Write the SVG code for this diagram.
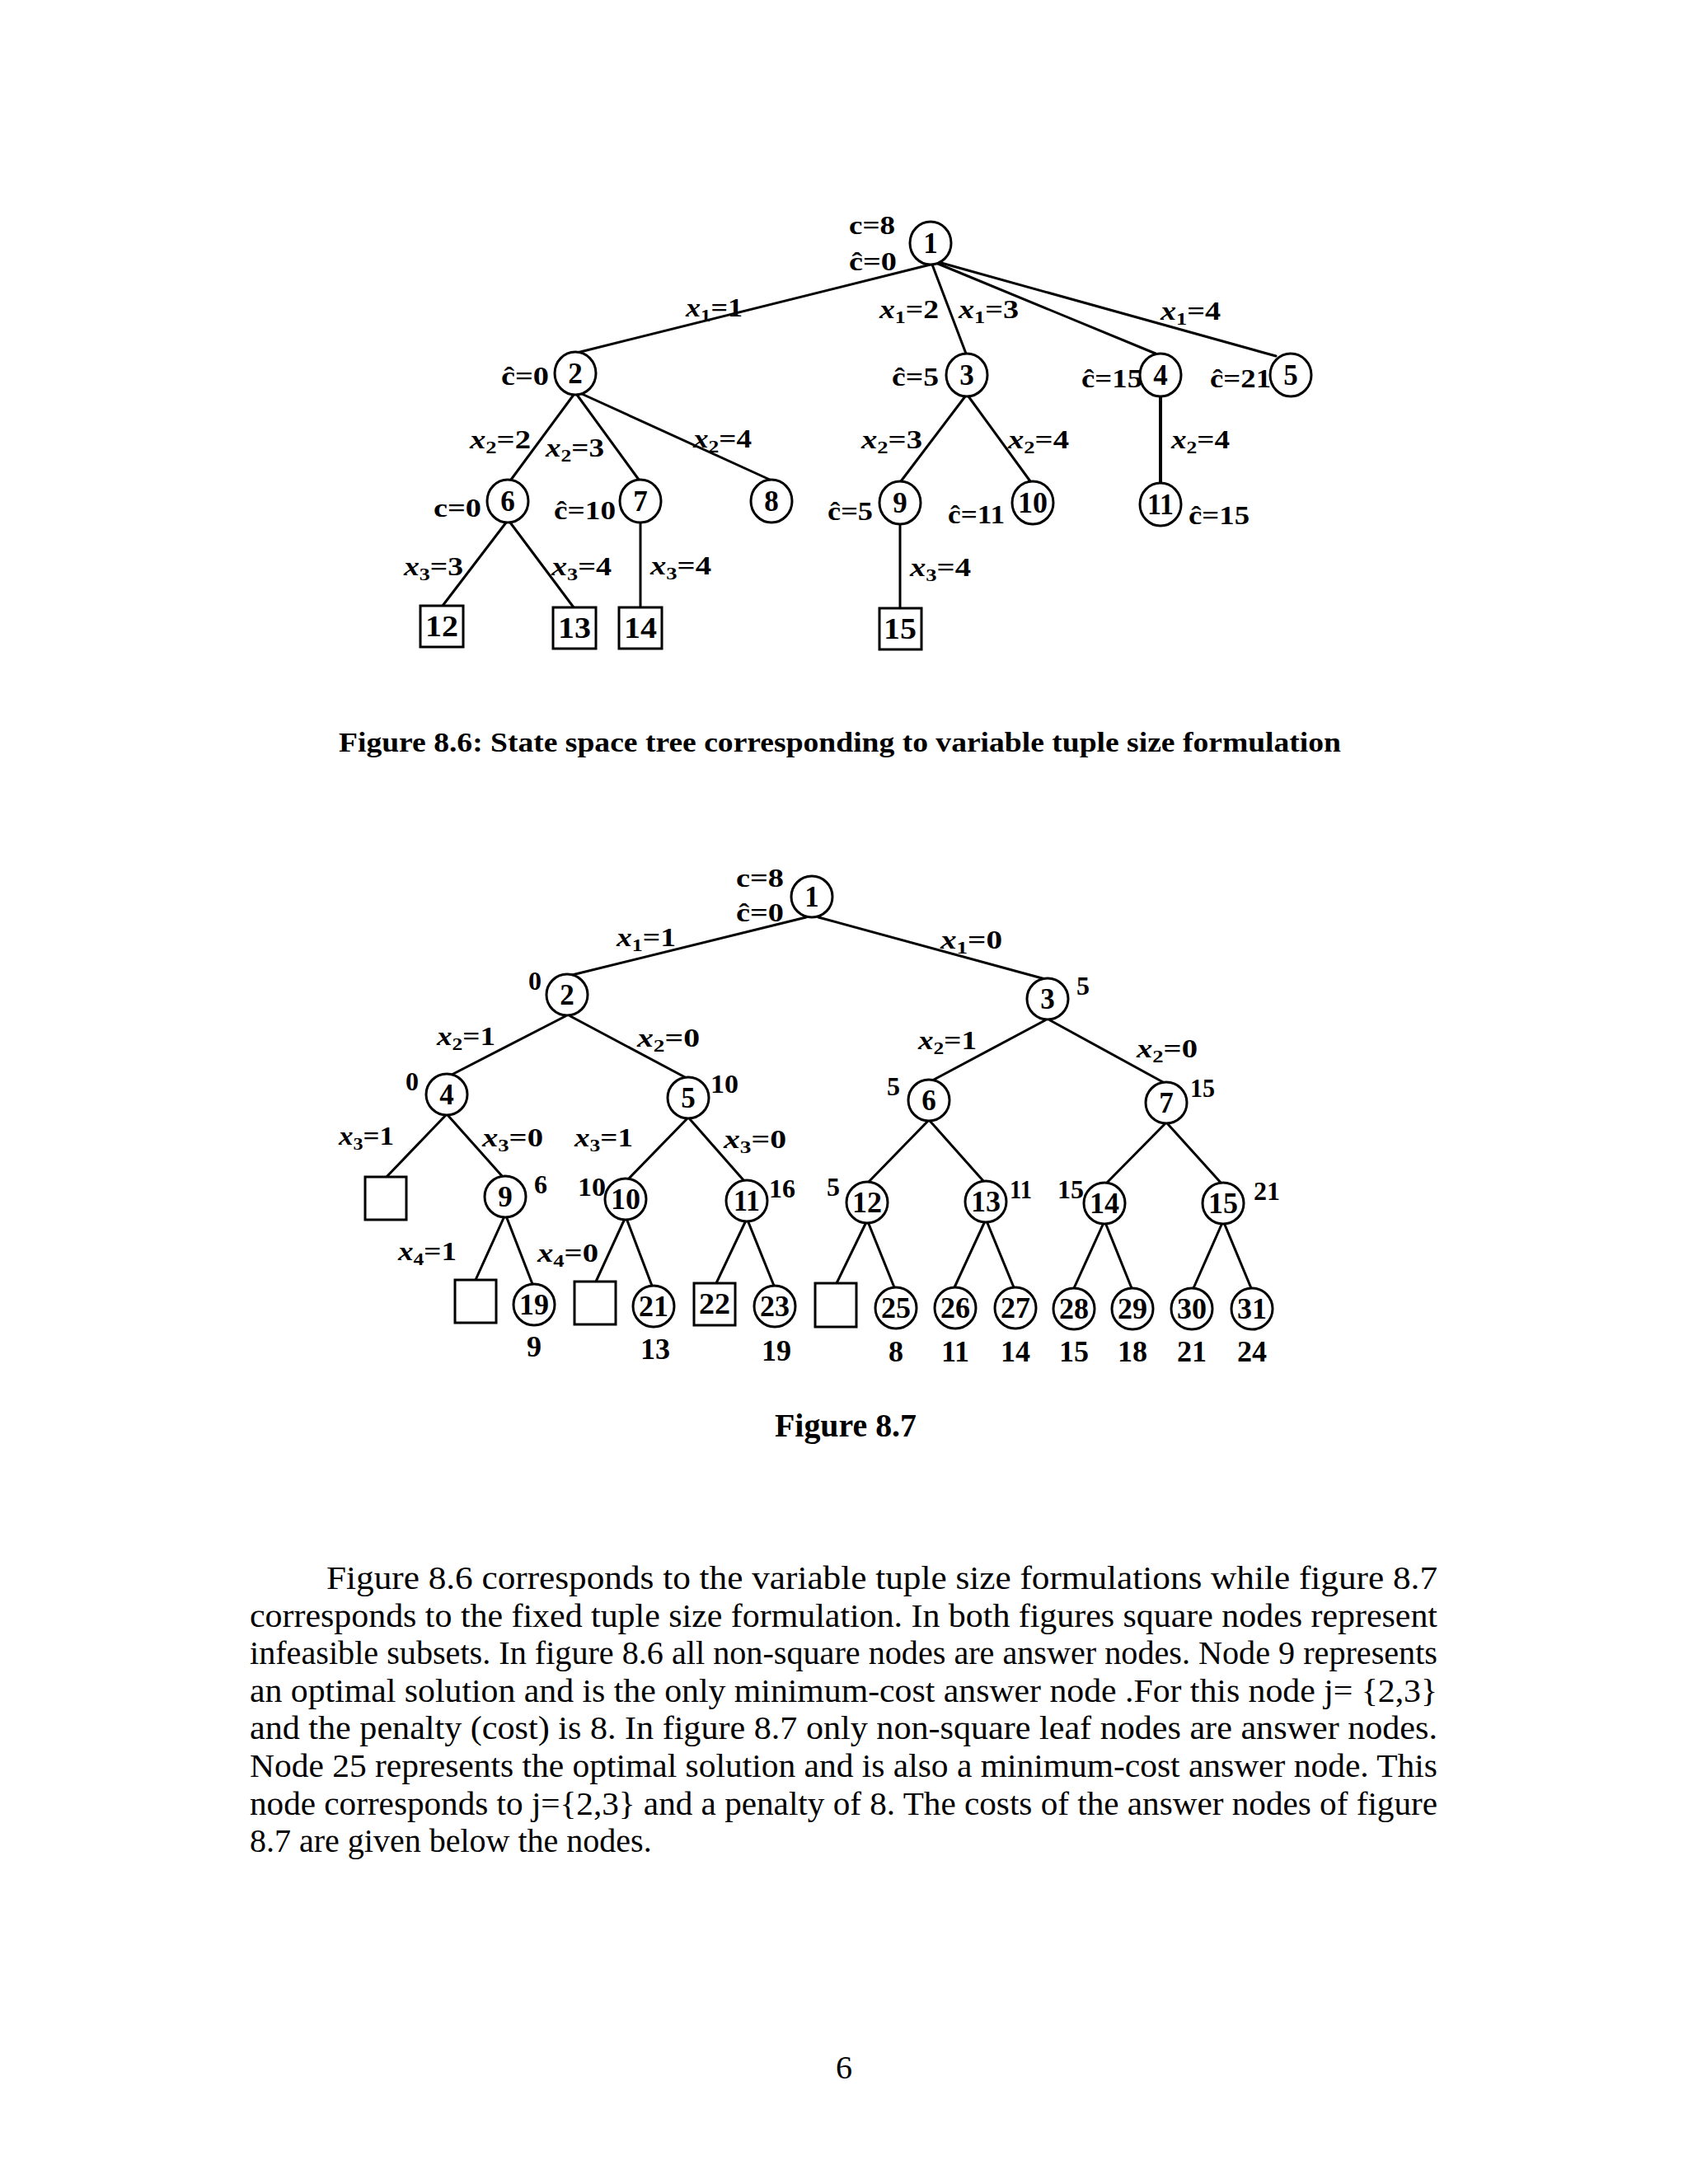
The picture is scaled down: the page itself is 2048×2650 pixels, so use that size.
<svg xmlns="http://www.w3.org/2000/svg" width="2048" height="2650" viewBox="0 0 2048 2650">
<style>
.e{stroke:#000;stroke-width:3;fill:none;stroke-linecap:round}
.n{fill:#fff;stroke:#000;stroke-width:3}
.t{font-family:"Liberation Serif","Times New Roman",serif;font-weight:bold;fill:#000}
.num{font-size:35px;text-anchor:middle}
.lb{font-size:32px}
.s{font-size:22px}
.i{font-style:italic}
.c{font-size:36px;text-anchor:middle}
.p{font-family:"Liberation Serif","Times New Roman",serif;font-size:40px;fill:#000}
</style>
<rect width="2048" height="2650" fill="#fff"/>

<!-- ===== Figure 8.6 connectors ===== -->
<g id="edges86">
<line class="e" x1="1129" y1="321" x2="700" y2="428"/>
<line class="e" x1="1131" y1="321" x2="1172" y2="429"/>
<line class="e" x1="1138" y1="320" x2="1402" y2="429"/>
<line class="e" x1="1142" y1="319" x2="1548" y2="432"/>
<line class="e" x1="696" y1="479" x2="620" y2="582"/>
<line class="e" x1="700" y1="479" x2="775" y2="582"/>
<line class="e" x1="706" y1="478" x2="934" y2="582"/>
<line class="e" x1="614" y1="634" x2="537" y2="735"/>
<line class="e" x1="619" y1="634" x2="696" y2="737"/>
<line class="e" x1="777" y1="634" x2="777" y2="737"/>
<line class="e" x1="1171" y1="481" x2="1093" y2="584"/>
<line class="e" x1="1175" y1="481" x2="1250" y2="584"/>
<line class="e" x1="1408" y1="481" x2="1408" y2="586" style="stroke-width:4"/>
<line class="e" x1="1092" y1="636" x2="1092" y2="738"/>
</g>
<g id="edgelabels86" class="t lb">
<text x="832" y="384" textLength="69" lengthAdjust="spacingAndGlyphs"><tspan class="i">x</tspan><tspan class="s" dy="6">1</tspan><tspan dy="-6">=1</tspan></text>
<text x="1067" y="386" textLength="72" lengthAdjust="spacingAndGlyphs"><tspan class="i">x</tspan><tspan class="s" dy="6">1</tspan><tspan dy="-6">=2</tspan></text>
<text x="1163" y="386" textLength="73" lengthAdjust="spacingAndGlyphs"><tspan class="i">x</tspan><tspan class="s" dy="6">1</tspan><tspan dy="-6">=3</tspan></text>
<text x="1408" y="388" textLength="73" lengthAdjust="spacingAndGlyphs"><tspan class="i">x</tspan><tspan class="s" dy="6">1</tspan><tspan dy="-6">=4</tspan></text>
<text x="570" y="544" textLength="74" lengthAdjust="spacingAndGlyphs"><tspan class="i">x</tspan><tspan class="s" dy="6">2</tspan><tspan dy="-6">=2</tspan></text>
<text x="662" y="554" textLength="71" lengthAdjust="spacingAndGlyphs"><tspan class="i">x</tspan><tspan class="s" dy="6">2</tspan><tspan dy="-6">=3</tspan></text>
<text x="841" y="543" textLength="71" lengthAdjust="spacingAndGlyphs"><tspan class="i">x</tspan><tspan class="s" dy="6">2</tspan><tspan dy="-6">=4</tspan></text>
<text x="1045" y="544" textLength="74" lengthAdjust="spacingAndGlyphs"><tspan class="i">x</tspan><tspan class="s" dy="6">2</tspan><tspan dy="-6">=3</tspan></text>
<text x="1223" y="544" textLength="74" lengthAdjust="spacingAndGlyphs"><tspan class="i">x</tspan><tspan class="s" dy="6">2</tspan><tspan dy="-6">=4</tspan></text>
<text x="1421" y="544" textLength="71" lengthAdjust="spacingAndGlyphs"><tspan class="i">x</tspan><tspan class="s" dy="6">2</tspan><tspan dy="-6">=4</tspan></text>
<text x="490" y="698" textLength="72" lengthAdjust="spacingAndGlyphs"><tspan class="i">x</tspan><tspan class="s" dy="6">3</tspan><tspan dy="-6">=3</tspan></text>
<text x="669" y="698" textLength="73" lengthAdjust="spacingAndGlyphs"><tspan class="i">x</tspan><tspan class="s" dy="6">3</tspan><tspan dy="-6">=4</tspan></text>
<text x="789" y="697" textLength="74" lengthAdjust="spacingAndGlyphs"><tspan class="i">x</tspan><tspan class="s" dy="6">3</tspan><tspan dy="-6">=4</tspan></text>
<text x="1104" y="699" textLength="74" lengthAdjust="spacingAndGlyphs"><tspan class="i">x</tspan><tspan class="s" dy="6">3</tspan><tspan dy="-6">=4</tspan></text>
</g>

<!-- ===== Figure 8.6 nodes ===== -->
<g id="a1"><ellipse class="n" cx="1129" cy="295" rx="25" ry="26"/><text class="t num" x="1129" y="307">1</text>
<text class="t lb" x="1030" y="284" textLength="56" lengthAdjust="spacingAndGlyphs">c=8</text>
<text class="t lb" x="1030" y="328" textLength="58" lengthAdjust="spacingAndGlyphs">ĉ=0</text></g>
<g id="a2"><ellipse class="n" cx="698" cy="453" rx="25" ry="26"/><text class="t num" x="698" y="465">2</text>
<text class="t lb" x="608" y="467" textLength="58" lengthAdjust="spacingAndGlyphs">ĉ=0</text></g>
<g id="a3"><ellipse class="n" cx="1173" cy="455" rx="25" ry="26"/><text class="t num" x="1173" y="467">3</text>
<text class="t lb" x="1082" y="468" textLength="57" lengthAdjust="spacingAndGlyphs">ĉ=5</text></g>
<g id="a4"><ellipse class="n" cx="1408" cy="455" rx="25" ry="26"/><text class="t num" x="1408" y="467">4</text>
<text class="t lb" x="1312" y="470" textLength="74" lengthAdjust="spacingAndGlyphs">ĉ=15</text></g>
<g id="a5"><ellipse class="n" cx="1566" cy="455" rx="25" ry="26"/><text class="t num" x="1566" y="467">5</text>
<text class="t lb" x="1468" y="470" textLength="74" lengthAdjust="spacingAndGlyphs">ĉ=21</text></g>
<g id="a6"><ellipse class="n" cx="616" cy="608" rx="25" ry="26"/><text class="t num" x="616" y="620">6</text>
<text class="t lb" x="526" y="627" textLength="58" lengthAdjust="spacingAndGlyphs">c=0</text></g>
<g id="a7"><ellipse class="n" cx="777" cy="608" rx="25" ry="26"/><text class="t num" x="777" y="620">7</text>
<text class="t lb" x="672" y="630" textLength="75" lengthAdjust="spacingAndGlyphs">ĉ=10</text></g>
<g id="a8"><ellipse class="n" cx="936" cy="608" rx="25" ry="26"/><text class="t num" x="936" y="620">8</text></g>
<g id="a9"><ellipse class="n" cx="1092" cy="610" rx="25" ry="26"/><text class="t num" x="1092" y="622">9</text>
<text class="t lb" x="1004" y="631" textLength="55" lengthAdjust="spacingAndGlyphs">ĉ=5</text></g>
<g id="a10"><ellipse class="n" cx="1253" cy="610" rx="25" ry="26"/><text class="t num" x="1253" y="622" textLength="36" lengthAdjust="spacingAndGlyphs">10</text>
<text class="t lb" x="1150" y="635" textLength="69" lengthAdjust="spacingAndGlyphs">ĉ=11</text></g>
<g id="a11"><ellipse class="n" cx="1408" cy="612" rx="25" ry="26"/><text class="t num" x="1408" y="624" textLength="32" lengthAdjust="spacingAndGlyphs">11</text>
<text class="t lb" x="1442" y="636" textLength="74" lengthAdjust="spacingAndGlyphs">ĉ=15</text></g>
<g id="a12"><rect class="n" x="510" y="735" width="52" height="50"/><text class="t num" x="536" y="772" textLength="40" lengthAdjust="spacingAndGlyphs">12</text></g>
<g id="a13"><rect class="n" x="671" y="737" width="52" height="50"/><text class="t num" x="697" y="774" textLength="40" lengthAdjust="spacingAndGlyphs">13</text></g>
<g id="a14"><rect class="n" x="751" y="737" width="52" height="50"/><text class="t num" x="777" y="774" textLength="40" lengthAdjust="spacingAndGlyphs">14</text></g>
<g id="a15"><rect class="n" x="1067" y="738" width="51" height="50"/><text class="t num" x="1092" y="775" textLength="40" lengthAdjust="spacingAndGlyphs">15</text></g>

<text class="t" x="411" y="912" font-size="34" textLength="1216" lengthAdjust="spacingAndGlyphs">Figure 8.6: State space tree corresponding to variable tuple size formulation</text>

<!-- ===== Figure 8.7 connectors ===== -->
<g id="edges87">
<line class="e" x1="978" y1="1113" x2="694" y2="1183"/>
<line class="e" x1="993" y1="1113" x2="1268" y2="1188"/>
<line class="e" x1="686" y1="1233" x2="548" y2="1304"/>
<line class="e" x1="692" y1="1233" x2="831" y2="1307"/>
<line class="e" x1="1268" y1="1238" x2="1133" y2="1310"/>
<line class="e" x1="1274" y1="1238" x2="1411" y2="1313"/>
<line class="e" x1="540" y1="1354" x2="469" y2="1428"/>
<line class="e" x1="544" y1="1354" x2="610" y2="1428"/>
<line class="e" x1="833" y1="1358" x2="762" y2="1431"/>
<line class="e" x1="837" y1="1358" x2="903" y2="1433"/>
<line class="e" x1="1125" y1="1361" x2="1053" y2="1435"/>
<line class="e" x1="1129" y1="1361" x2="1194" y2="1434"/>
<line class="e" x1="1413" y1="1364" x2="1342" y2="1436"/>
<line class="e" x1="1417" y1="1364" x2="1482" y2="1436"/>
<line class="e" x1="611" y1="1478" x2="577" y2="1553"/>
<line class="e" x1="615" y1="1478" x2="646" y2="1558"/>
<line class="e" x1="757" y1="1481" x2="723" y2="1555"/>
<line class="e" x1="761" y1="1481" x2="791" y2="1560"/>
<line class="e" x1="904" y1="1483" x2="869" y2="1557"/>
<line class="e" x1="908" y1="1483" x2="939" y2="1560"/>
<line class="e" x1="1050" y1="1485" x2="1015" y2="1557"/>
<line class="e" x1="1054" y1="1485" x2="1085" y2="1562"/>
<line class="e" x1="1194" y1="1484" x2="1158" y2="1562"/>
<line class="e" x1="1198" y1="1484" x2="1230" y2="1562"/>
<line class="e" x1="1338" y1="1486" x2="1303" y2="1563"/>
<line class="e" x1="1342" y1="1486" x2="1373" y2="1563"/>
<line class="e" x1="1482" y1="1486" x2="1448" y2="1563"/>
<line class="e" x1="1486" y1="1486" x2="1518" y2="1563"/>
</g>
<g id="edgelabels87" class="t lb">
<text x="748" y="1148" textLength="72" lengthAdjust="spacingAndGlyphs"><tspan class="i">x</tspan><tspan class="s" dy="6">1</tspan><tspan dy="-6">=1</tspan></text>
<text x="1141" y="1151" textLength="75" lengthAdjust="spacingAndGlyphs"><tspan class="i">x</tspan><tspan class="s" dy="6">1</tspan><tspan dy="-6">=0</tspan></text>
<text x="530" y="1268" textLength="71" lengthAdjust="spacingAndGlyphs"><tspan class="i">x</tspan><tspan class="s" dy="6">2</tspan><tspan dy="-6">=1</tspan></text>
<text x="773" y="1270" textLength="76" lengthAdjust="spacingAndGlyphs"><tspan class="i">x</tspan><tspan class="s" dy="6">2</tspan><tspan dy="-6">=0</tspan></text>
<text x="1114" y="1273" textLength="71" lengthAdjust="spacingAndGlyphs"><tspan class="i">x</tspan><tspan class="s" dy="6">2</tspan><tspan dy="-6">=1</tspan></text>
<text x="1379" y="1283" textLength="74" lengthAdjust="spacingAndGlyphs"><tspan class="i">x</tspan><tspan class="s" dy="6">2</tspan><tspan dy="-6">=0</tspan></text>
<text x="411" y="1389" textLength="67" lengthAdjust="spacingAndGlyphs"><tspan class="i">x</tspan><tspan class="s" dy="6">3</tspan><tspan dy="-6">=1</tspan></text>
<text x="585" y="1391" textLength="74" lengthAdjust="spacingAndGlyphs"><tspan class="i">x</tspan><tspan class="s" dy="6">3</tspan><tspan dy="-6">=0</tspan></text>
<text x="697" y="1391" textLength="71" lengthAdjust="spacingAndGlyphs"><tspan class="i">x</tspan><tspan class="s" dy="6">3</tspan><tspan dy="-6">=1</tspan></text>
<text x="878" y="1393" textLength="76" lengthAdjust="spacingAndGlyphs"><tspan class="i">x</tspan><tspan class="s" dy="6">3</tspan><tspan dy="-6">=0</tspan></text>
<text x="483" y="1529" textLength="71" lengthAdjust="spacingAndGlyphs"><tspan class="i">x</tspan><tspan class="s" dy="6">4</tspan><tspan dy="-6">=1</tspan></text>
<text x="652" y="1531" textLength="74" lengthAdjust="spacingAndGlyphs"><tspan class="i">x</tspan><tspan class="s" dy="6">4</tspan><tspan dy="-6">=0</tspan></text>
</g>

<!-- ===== Figure 8.7 nodes ===== -->
<g id="b1"><ellipse class="n" cx="985" cy="1088" rx="25" ry="25"/><text class="t num" x="985" y="1100">1</text>
<text class="t lb" x="893" y="1076" textLength="58" lengthAdjust="spacingAndGlyphs">c=8</text>
<text class="t lb" x="893" y="1118" textLength="58" lengthAdjust="spacingAndGlyphs">ĉ=0</text></g>
<g id="b2"><ellipse class="n" cx="688" cy="1207" rx="25" ry="25"/><text class="t num" x="688" y="1219">2</text>
<text class="t lb" x="641" y="1201">0</text></g>
<g id="b3"><ellipse class="n" cx="1271" cy="1212" rx="25" ry="25"/><text class="t num" x="1271" y="1224">3</text>
<text class="t lb" x="1306" y="1207">5</text></g>
<g id="b4"><ellipse class="n" cx="542" cy="1328" rx="25" ry="25"/><text class="t num" x="542" y="1340">4</text>
<text class="t lb" x="492" y="1323">0</text></g>
<g id="b5"><ellipse class="n" cx="835" cy="1332" rx="25" ry="25"/><text class="t num" x="835" y="1344">5</text>
<text class="t lb" x="862" y="1326" textLength="34" lengthAdjust="spacingAndGlyphs">10</text></g>
<g id="b6"><ellipse class="n" cx="1127" cy="1335" rx="25" ry="25"/><text class="t num" x="1127" y="1347">6</text>
<text class="t lb" x="1076" y="1329">5</text></g>
<g id="b7"><ellipse class="n" cx="1415" cy="1338" rx="25" ry="25"/><text class="t num" x="1415" y="1350">7</text>
<text class="t lb" x="1444" y="1331" textLength="30" lengthAdjust="spacingAndGlyphs">15</text></g>
<g id="b8"><rect class="n" x="443" y="1428" width="50" height="52"/></g>
<g id="b9"><ellipse class="n" cx="613" cy="1452" rx="25" ry="25"/><text class="t num" x="613" y="1464">9</text>
<text class="t lb" x="648" y="1448">6</text></g>
<g id="b10"><ellipse class="n" cx="759" cy="1455" rx="25" ry="25"/><text class="t num" x="759" y="1467" textLength="36" lengthAdjust="spacingAndGlyphs">10</text>
<text class="t lb" x="701" y="1451" textLength="34" lengthAdjust="spacingAndGlyphs">10</text></g>
<g id="b11"><ellipse class="n" cx="906" cy="1457" rx="25" ry="25"/><text class="t num" x="906" y="1469" textLength="32" lengthAdjust="spacingAndGlyphs">11</text>
<text class="t lb" x="933" y="1453" textLength="32" lengthAdjust="spacingAndGlyphs">16</text></g>
<g id="b12"><ellipse class="n" cx="1052" cy="1459" rx="25" ry="25"/><text class="t num" x="1052" y="1471" textLength="36" lengthAdjust="spacingAndGlyphs">12</text>
<text class="t lb" x="1003" y="1451">5</text></g>
<g id="b13"><ellipse class="n" cx="1196" cy="1458" rx="25" ry="25"/><text class="t num" x="1196" y="1470" textLength="36" lengthAdjust="spacingAndGlyphs">13</text>
<text class="t lb" x="1225" y="1454" textLength="27" lengthAdjust="spacingAndGlyphs">11</text></g>
<g id="b14"><ellipse class="n" cx="1340" cy="1460" rx="25" ry="25"/><text class="t num" x="1340" y="1472" textLength="36" lengthAdjust="spacingAndGlyphs">14</text>
<text class="t lb" x="1283" y="1454" textLength="32" lengthAdjust="spacingAndGlyphs">15</text></g>
<g id="b15"><ellipse class="n" cx="1484" cy="1460" rx="25" ry="25"/><text class="t num" x="1484" y="1472" textLength="36" lengthAdjust="spacingAndGlyphs">15</text>
<text class="t lb" x="1521" y="1456" textLength="32" lengthAdjust="spacingAndGlyphs">21</text></g>
<g id="b18"><rect class="n" x="552" y="1553" width="50" height="52"/></g>
<g id="b19"><ellipse class="n" cx="648" cy="1583" rx="25" ry="25"/><text class="t num" x="648" y="1595" textLength="36" lengthAdjust="spacingAndGlyphs">19</text>
<text class="t c" x="648" y="1646">9</text></g>
<g id="b20"><rect class="n" x="697" y="1555" width="50" height="52"/></g>
<g id="b21"><ellipse class="n" cx="793" cy="1585" rx="25" ry="25"/><text class="t num" x="793" y="1597" textLength="36" lengthAdjust="spacingAndGlyphs">21</text>
<text class="t c" x="795" y="1649">13</text></g>
<g id="b22"><rect class="n" x="842" y="1557" width="50" height="51"/><text class="t num" x="867" y="1594" textLength="38" lengthAdjust="spacingAndGlyphs">22</text></g>
<g id="b23"><ellipse class="n" cx="940" cy="1585" rx="25" ry="25"/><text class="t num" x="940" y="1597" textLength="36" lengthAdjust="spacingAndGlyphs">23</text>
<text class="t c" x="942" y="1651">19</text></g>
<g id="b24"><rect class="n" x="989" y="1557" width="50" height="53"/></g>
<g id="b25"><ellipse class="n" cx="1087" cy="1587" rx="25" ry="25"/><text class="t num" x="1087" y="1599" textLength="36" lengthAdjust="spacingAndGlyphs">25</text>
<text class="t c" x="1087" y="1652">8</text></g>
<g id="b26"><ellipse class="n" cx="1159" cy="1587" rx="25" ry="25"/><text class="t num" x="1159" y="1599" textLength="36" lengthAdjust="spacingAndGlyphs">26</text>
<text class="t c" x="1159" y="1652">11</text></g>
<g id="b27"><ellipse class="n" cx="1232" cy="1587" rx="25" ry="25"/><text class="t num" x="1232" y="1599" textLength="36" lengthAdjust="spacingAndGlyphs">27</text>
<text class="t c" x="1232" y="1652">14</text></g>
<g id="b28"><ellipse class="n" cx="1303" cy="1588" rx="25" ry="25"/><text class="t num" x="1303" y="1600" textLength="36" lengthAdjust="spacingAndGlyphs">28</text>
<text class="t c" x="1303" y="1652">15</text></g>
<g id="b29"><ellipse class="n" cx="1374" cy="1588" rx="25" ry="25"/><text class="t num" x="1374" y="1600" textLength="36" lengthAdjust="spacingAndGlyphs">29</text>
<text class="t c" x="1374" y="1652">18</text></g>
<g id="b30"><ellipse class="n" cx="1446" cy="1588" rx="25" ry="25"/><text class="t num" x="1446" y="1600" textLength="36" lengthAdjust="spacingAndGlyphs">30</text>
<text class="t c" x="1446" y="1652">21</text></g>
<g id="b31"><ellipse class="n" cx="1519" cy="1588" rx="25" ry="25"/><text class="t num" x="1519" y="1600" textLength="36" lengthAdjust="spacingAndGlyphs">31</text>
<text class="t c" x="1519" y="1652">24</text></g>

<text class="t" x="940" y="1743" font-size="40" textLength="172" lengthAdjust="spacingAndGlyphs">Figure 8.7</text>

<g id="paragraph" class="p">
<text x="396" y="1928" textLength="1348" lengthAdjust="spacingAndGlyphs">Figure 8.6 corresponds to the variable tuple size formulations while figure 8.7</text>
<text x="303" y="1974" textLength="1441" lengthAdjust="spacingAndGlyphs">corresponds to the fixed tuple size formulation. In both figures square nodes represent</text>
<text x="303" y="2019" textLength="1441" lengthAdjust="spacingAndGlyphs">infeasible subsets. In figure 8.6 all non-square nodes are answer nodes. Node 9 represents</text>
<text x="303" y="2065" textLength="1441" lengthAdjust="spacingAndGlyphs">an optimal solution and is the only minimum-cost answer node .For this node j= {2,3}</text>
<text x="303" y="2110" textLength="1441" lengthAdjust="spacingAndGlyphs">and the penalty (cost) is 8. In figure 8.7 only non-square leaf nodes are answer nodes.</text>
<text x="303" y="2156" textLength="1441" lengthAdjust="spacingAndGlyphs">Node 25 represents the optimal solution and is also a minimum-cost answer node. This</text>
<text x="303" y="2202" textLength="1441" lengthAdjust="spacingAndGlyphs">node corresponds to j={2,3} and a penalty of 8. The costs of the answer nodes of figure</text>
<text x="303" y="2247">8.7 are given below the nodes.</text>
</g>
<text class="p" x="1024" y="2522" text-anchor="middle">6</text>
</svg>
